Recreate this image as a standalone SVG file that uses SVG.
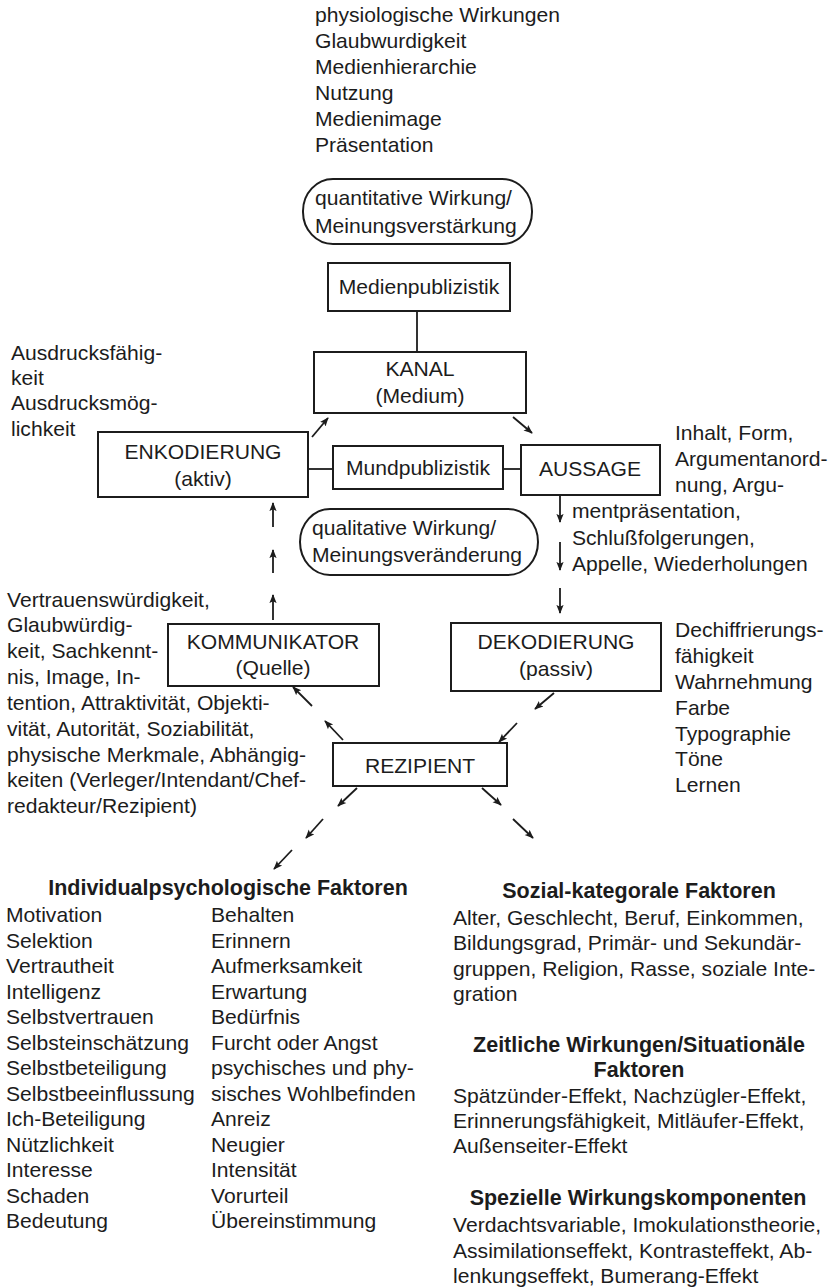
<svg xmlns="http://www.w3.org/2000/svg" width="839" height="1287" viewBox="0 0 839 1287">
<style>
text{font-family:"Liberation Sans",Arial,Helvetica,sans-serif;font-size:21.1px;fill:#1c1c1c}
.c{text-anchor:middle}
.b{font-weight:bold;font-size:21.5px}
.box{fill:none;stroke:#1c1c1c;stroke-width:2}
.ln{fill:none;stroke:#1c1c1c;stroke-width:1.8}
.ar{fill:none;stroke:#1c1c1c;stroke-width:1.8;marker-end:url(#ah)}
</style>
<defs>
<marker id="ah" viewBox="0 0 10 10" refX="9" refY="5" markerWidth="9" markerHeight="9" markerUnits="userSpaceOnUse" orient="auto">
<path d="M0,1 L10,5 L0,9 L2,5 Z" fill="#1c1c1c"/>
</marker>
</defs>
<rect width="839" height="1287" fill="#ffffff"/>

<g id="top-list">
<text x="315" y="22">physiologische Wirkungen</text>
<text x="315" y="48">Glaubwurdigkeit</text>
<text x="315" y="74">Medienhierarchie</text>
<text x="315" y="100">Nutzung</text>
<text x="315" y="126">Medienimage</text>
<text x="315" y="152">Präsentation</text>
</g>

<g id="quantitative">
<rect class="box" x="303" y="179" width="229" height="65" rx="30" ry="32"/>
<text x="315" y="205">quantitative Wirkung/</text>
<text x="315" y="233">Meinungsverstärkung</text>
</g>

<g id="medienpublizistik">
<rect class="box" x="328" y="263" width="182" height="48"/>
<text class="c" x="419" y="294">Medienpublizistik</text>
</g>

<g id="kanal">
<rect class="box" x="314" y="352" width="212" height="61"/>
<text class="c" x="420" y="376">KANAL</text>
<text class="c" x="420" y="403">(Medium)</text>
</g>

<g id="ausdruck-text">
<text x="11" y="360">Ausdrucksfähig-</text>
<text x="11" y="385">keit</text>
<text x="11" y="410">Ausdrucksmög-</text>
<text x="11" y="436">lichkeit</text>
</g>

<g id="enkodierung">
<rect class="box" x="98" y="432" width="210" height="65"/>
<text class="c" x="203" y="459">ENKODIERUNG</text>
<text class="c" x="203" y="486">(aktiv)</text>
</g>

<g id="mundpublizistik">
<rect class="box" x="333" y="446" width="170" height="43"/>
<text class="c" x="418" y="475">Mundpublizistik</text>
</g>

<g id="aussage">
<rect class="box" x="521" y="445" width="139" height="50"/>
<text class="c" x="590" y="476">AUSSAGE</text>
</g>

<g id="aussage-text">
<text x="675" y="440">Inhalt, Form,</text>
<text x="675" y="466">Argumentanord-</text>
<text x="675" y="492">nung, Argu-</text>
<text x="572" y="518">mentpräsentation,</text>
<text x="572" y="545">Schlußfolgerungen,</text>
<text x="572" y="571">Appelle, Wiederholungen</text>
</g>

<g id="qualitative">
<rect class="box" x="300" y="509" width="238" height="66" rx="30" ry="33"/>
<text x="312" y="535">qualitative Wirkung/</text>
<text x="312" y="562">Meinungsveränderung</text>
</g>

<g id="kommunikator-text">
<text x="7" y="607">Vertrauenswürdigkeit,</text>
<text x="7" y="632">Glaubwürdig-</text>
<text x="7" y="658">keit, Sachkennt-</text>
<text x="7" y="684">nis, Image, In-</text>
<text x="7" y="710">tention, Attraktivität, Objekti-</text>
<text x="7" y="736">vität, Autorität, Soziabilität,</text>
<text x="7" y="762">physische Merkmale, Abhängig-</text>
<text x="7" y="787">keiten (Verleger/Intendant/Chef-</text>
<text x="7" y="813">redakteur/Rezipient)</text>
</g>

<g id="kommunikator">
<rect class="box" x="168" y="624" width="211" height="62"/>
<text class="c" x="273" y="649">KOMMUNIKATOR</text>
<text class="c" x="273" y="675">(Quelle)</text>
</g>

<g id="dekodierung">
<rect class="box" x="451" y="623" width="210" height="68"/>
<text class="c" x="556" y="649">DEKODIERUNG</text>
<text class="c" x="556" y="676">(passiv)</text>
</g>

<g id="dekodierung-text">
<text x="675" y="637">Dechiffrierungs-</text>
<text x="675" y="663">fähigkeit</text>
<text x="675" y="689">Wahrnehmung</text>
<text x="675" y="715">Farbe</text>
<text x="675" y="741">Typographie</text>
<text x="675" y="766">Töne</text>
<text x="675" y="792">Lernen</text>
</g>

<g id="rezipient">
<rect class="box" x="333" y="743" width="174" height="43"/>
<text class="c" x="420" y="773">REZIPIENT</text>
</g>

<g id="individual">
<text class="b c" x="228" y="895">Individualpsychologische Faktoren</text>
<text x="6" y="922">Motivation</text>
<text x="6" y="947.5">Selektion</text>
<text x="6" y="973">Vertrautheit</text>
<text x="6" y="998.5">Intelligenz</text>
<text x="6" y="1024">Selbstvertrauen</text>
<text x="6" y="1049.5">Selbsteinschätzung</text>
<text x="6" y="1075">Selbstbeteiligung</text>
<text x="6" y="1100.5">Selbstbeeinflussung</text>
<text x="6" y="1126">Ich-Beteiligung</text>
<text x="6" y="1151.5">Nützlichkeit</text>
<text x="6" y="1177">Interesse</text>
<text x="6" y="1202.5">Schaden</text>
<text x="6" y="1228">Bedeutung</text>
<text x="211" y="922">Behalten</text>
<text x="211" y="947.5">Erinnern</text>
<text x="211" y="973">Aufmerksamkeit</text>
<text x="211" y="998.5">Erwartung</text>
<text x="211" y="1024">Bedürfnis</text>
<text x="211" y="1049.5">Furcht oder Angst</text>
<text x="211" y="1075">psychisches und phy-</text>
<text x="211" y="1100.5">sisches Wohlbefinden</text>
<text x="211" y="1126">Anreiz</text>
<text x="211" y="1151.5">Neugier</text>
<text x="211" y="1177">Intensität</text>
<text x="211" y="1202.5">Vorurteil</text>
<text x="211" y="1228">Übereinstimmung</text>
</g>

<g id="sozial">
<text class="b c" x="639" y="898">Sozial-kategorale Faktoren</text>
<text x="453" y="925">Alter, Geschlecht, Beruf, Einkommen,</text>
<text x="453" y="950">Bildungsgrad, Primär- und Sekundär-</text>
<text x="453" y="976">gruppen, Religion, Rasse, soziale Inte-</text>
<text x="453" y="1001">gration</text>
</g>

<g id="zeitlich">
<text class="b c" x="639" y="1052">Zeitliche Wirkungen/Situationäle</text>
<text class="b c" x="639" y="1077">Faktoren</text>
<text x="453" y="1103">Spätzünder-Effekt, Nachzügler-Effekt,</text>
<text x="453" y="1128">Erinnerungsfähigkeit, Mitläufer-Effekt,</text>
<text x="453" y="1153">Außenseiter-Effekt</text>
</g>

<g id="speziell">
<text class="b c" x="638" y="1205">Spezielle Wirkungskomponenten</text>
<text x="453" y="1232">Verdachtsvariable, Imokulationstheorie,</text>
<text x="453" y="1258">Assimilationseffekt, Kontrasteffekt, Ab-</text>
<text x="453" y="1283">lenkungseffekt, Bumerang-Effekt</text>
</g>

<g id="connectors">
<line class="ln" x1="417" y1="311" x2="417" y2="352"/>
<line class="ln" x1="308" y1="469" x2="333" y2="469"/>
<line class="ln" x1="503" y1="469" x2="521" y2="469"/>
<line class="ar" x1="312" y1="437" x2="328" y2="418"/>
<line class="ar" x1="513" y1="417" x2="532" y2="433"/>
<line class="ar" x1="560" y1="496" x2="560" y2="522"/>
<line class="ar" x1="560" y1="542" x2="560" y2="570"/>
<line class="ar" x1="560" y1="588" x2="560" y2="613"/>
<line class="ar" x1="273" y1="527" x2="273" y2="503"/>
<line class="ar" x1="273" y1="573" x2="273" y2="550"/>
<line class="ar" x1="273" y1="620" x2="273" y2="595"/>
<line class="ar" x1="343" y1="740" x2="325" y2="721"/>
<line class="ar" x1="312" y1="706" x2="293" y2="687"/>
<line class="ar" x1="554" y1="693" x2="535" y2="709"/>
<line class="ar" x1="517" y1="723" x2="499" y2="742"/>
<line class="ar" x1="357" y1="788" x2="338" y2="806"/>
<line class="ar" x1="323" y1="819" x2="306" y2="838"/>
<line class="ar" x1="292" y1="850" x2="274" y2="869"/>
<line class="ar" x1="482" y1="788" x2="501" y2="805"/>
<line class="ar" x1="513" y1="819" x2="533" y2="838"/>
</g>
</svg>
